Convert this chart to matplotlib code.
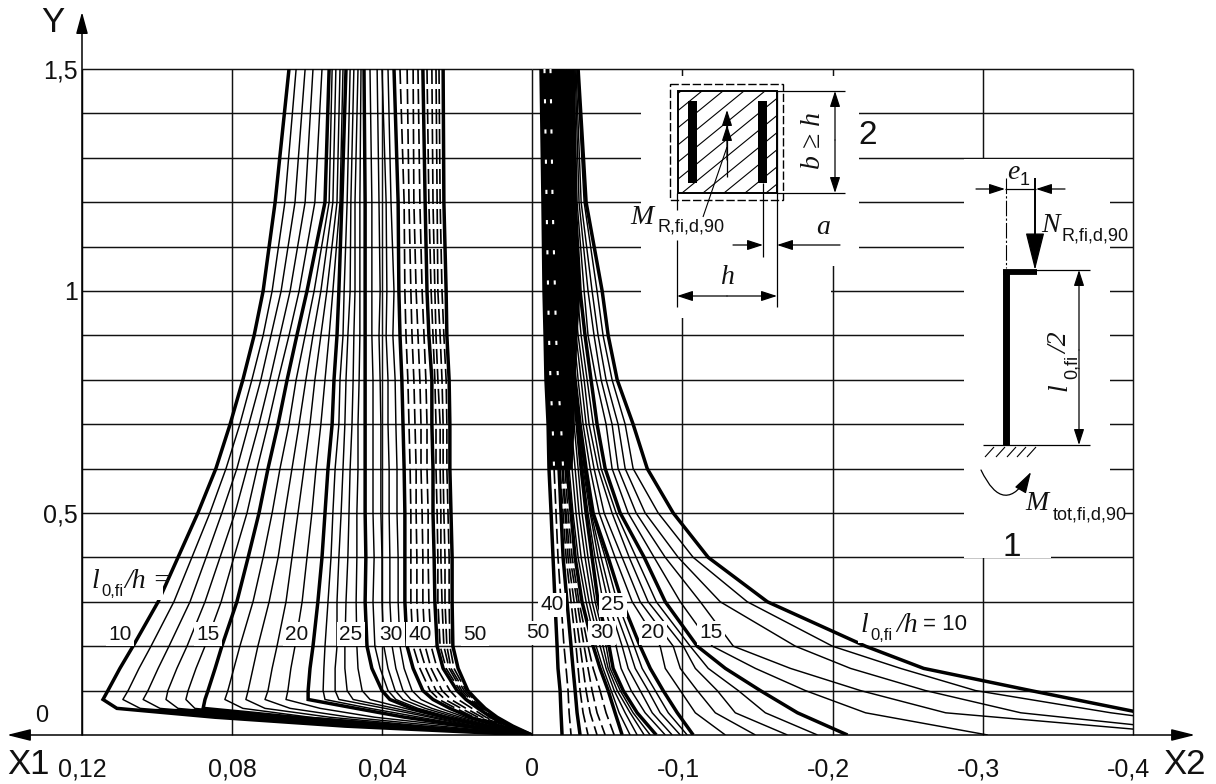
import numpy as np
from matplotlib import pyplot as plt
from matplotlib.patches import Rectangle, FancyArrowPatch
from matplotlib.transforms import ScaledTranslation

plt.rcParams['font.family'] = ['Liberation Sans', 'DejaVu Sans']

# left branch (X1): columns run l/h = 10 ... 50, four thin curves between the thick ones
y1_levels = [1.5, 1.2, 1.0, 0.9, 0.8, 0.7, 0.6, 0.5, 0.4, 0.3, 0.2, 0.15, 0.1, 0.08, 0.06, 0.04, 0.02, 0.0]
x1_y150 = [.0648,.0629,.0605,.0584,.0560,.0541,.0533,.0523,.0512,.0504,.0496,.0485,.0475,.0464,.0456,.0448,.0432,.0413,.0400,.0384,.0368,.0352,.0333,.0317,.0304,.0291,.0280,.0267,.0256,.0248,.0237]
x1_y120 = [.0685,.0659,.0632,.0605,.0579,.0552,.0541,.0531,.0520,.0512,.0507,.0493,.0483,.0472,.0459,.0445,.0427,.0408,.0389,.0376,.0357,.0341,.0328,.0315,.0299,.0285,.0275,.0264,.0253,.0245,.0235]
x1_y100 = [.0717,.0693,.0669,.0645,.0621,.0600,.0581,.0563,.0547,.0531,.0515,.0501,.0485,.0472,.0459,.0445,.0427,.0405,.0387,.0368,.0355,.0339,.0323,.0309,.0293,.0280,.0269,.0259,.0251,.0240,.0229]
x1_y090 = [.0741,.0717,.0696,.0672,.0648,.0627,.0605,.0584,.0563,.0541,.0520,.0504,.0491,.0475,.0459,.0445,.0427,.0408,.0389,.0371,.0352,.0336,.0320,.0304,.0288,.0275,.0264,.0256,.0245,.0235,.0227]
x1_y080 = [.0771,.0747,.0723,.0699,.0677,.0653,.0629,.0603,.0579,.0552,.0528,.0512,.0496,.0477,.0461,.0445,.0424,.0405,.0384,.0365,.0347,.0331,.0315,.0299,.0283,.0267,.0259,.0251,.0240,.0229,.0221]
x1_y070 = [.0805,.0779,.0755,.0728,.0704,.0677,.0648,.0621,.0592,.0563,.0533,.0515,.0499,.0480,.0464,.0445,.0424,.0403,.0384,.0363,.0344,.0328,.0312,.0296,.0280,.0267,.0256,.0245,.0237,.0227,.0219]
x1_y060 = [.0843,.0816,.0787,.0760,.0733,.0704,.0672,.0640,.0608,.0576,.0544,.0525,.0504,.0485,.0464,.0445,.0424,.0403,.0381,.0360,.0341,.0325,.0309,.0296,.0280,.0264,.0256,.0245,.0237,.0227,.0219]
x1_y050 = [.0891,.0859,.0827,.0792,.0760,.0728,.0693,.0659,.0624,.0587,.0552,.0531,.0509,.0488,.0467,.0445,.0424,.0403,.0381,.0360,.0339,.0323,.0309,.0293,.0277,.0264,.0253,.0243,.0235,.0224,.0216]
x1_y040 = [.0944,.0907,.0869,.0832,.0795,.0757,.0717,.0677,.0640,.0600,.0560,.0536,.0515,.0491,.0467,.0443,.0421,.0400,.0379,.0357,.0339,.0323,.0307,.0291,.0277,.0261,.0251,.0243,.0232,.0221,.0213]
x1_y030 = [.0997,.0955,.0912,.0872,.0829,.0787,.0744,.0701,.0656,.0613,.0571,.0544,.0520,.0496,.0469,.0445,.0424,.0400,.0379,.0357,.0339,.0323,.0307,.0291,.0275,.0259,.0251,.0240,.0232,.0221,.0213]
x1_y020 = [.1064,.1016,.0968,.0920,.0872,.0827,.0779,.0731,.0680,.0632,.0584,.0552,.0520,.0499,.0467,.0440,.0419,.0395,.0373,.0352,.0333,.0317,.0301,.0285,.0269,.0253,.0245,.0235,.0227,.0219,.0211]
x1_y015 = [.1099,.1048,.0997,.0947,.0896,.0845,.0795,.0744,.0693,.0643,.0592,.0555,.0525,.0499,.0464,.0427,.0405,.0384,.0363,.0341,.0317,.0299,.0283,.0269,.0253,.0237,.0229,.0221,.0216,.0208,.0197]
x1_y010 = [.1131,.1077,.1024,.0971,.0917,.0864,.0811,.0757,.0704,.0651,.0597,.0557,.0525,.0493,.0453,.0400,.0384,.0365,.0344,.0320,.0291,.0272,.0256,.0240,.0219,.0200,.0192,.0187,.0181,.0176,.0171]
x1_y008 = [.1144,.1091,.1037,.0976,.0923,.0872,.0819,.0763,.0712,.0656,.0597,.0552,.0515,.0477,.0432,.0379,.0363,.0344,.0323,.0296,.0264,.0248,.0232,.0216,.0197,.0176,.0171,.0165,.0160,.0155,.0149]
x1_y006 = [.1107,.1045,.0992,.0944,.0899,.0877,.0771,.0712,.0645,.0565,.0469,.0432,.0392,.0365,.0339,.0320,.0304,.0285,.0267,.0245,.0219,.0203,.0189,.0176,.0160,.0144,.0139,.0136,.0131,.0128,.0125]
x1_y004 = [.0845,.0779,.0739,.0712,.0672,.0632,.0592,.0539,.0485,.0419,.0339,.0299,.0272,.0259,.0245,.0232,.0219,.0205,.0192,.0179,.0165,.0155,.0144,.0133,.0123,.0109,.0107,.0104,.0101,.0099,.0093]
x1_y002 = [.0499,.0459,.0419,.0392,.0365,.0339,.0312,.0285,.0245,.0205,.0179,.0165,.0160,.0152,.0139,.0125,.0117,.0112,.0107,.0099,.0085,.0080,.0075,.0069,.0064,.0059,.0059,.0056,.0053,.0053,.0051]
x1_y000 = [0.0] * 31
x1_rows = [x1_y150, x1_y120, x1_y100, x1_y090, x1_y080, x1_y070, x1_y060, x1_y050, x1_y040,
           x1_y030, x1_y020, x1_y015, x1_y010, x1_y008, x1_y006, x1_y004, x1_y002, x1_y000]
x1_thick = [0, 5, 10, 15, 20, 25, 30]
x1_dashed = [21, 22, 23, 24, 26, 27, 28, 29]

# right branch (X2, drawn with magnitudes): columns run l/h = 50 ... 10
y2_levels = [1.5, 1.2, 1.0, 0.9, 0.8, 0.7, 0.6, 0.5, 0.4, 0.3, 0.2, 0.15, 0.1, 0.05, 0.0]
x2_y150 = [.0060,.0083,.0107,.0113,.0120,.0123,.0127,.0133,.0140,.0147,.0153,.0163,.0173,.0180,.0183,.0187,.0193,.0200,.0213,.0227,.0240,.0253,.0273,.0280,.0287,.0293,.0300,.0307]
x2_y120 = [.0073,.0097,.0120,.0127,.0133,.0137,.0140,.0147,.0160,.0167,.0180,.0187,.0200,.0203,.0207,.0207,.0210,.0213,.0227,.0240,.0253,.0267,.0287,.0300,.0313,.0327,.0347,.0360]
x2_y100 = [.0080,.0107,.0133,.0140,.0147,.0153,.0160,.0167,.0180,.0190,.0200,.0213,.0227,.0227,.0233,.0233,.0240,.0240,.0253,.0267,.0280,.0300,.0320,.0347,.0373,.0400,.0433,.0467]
x2_y090 = [.0087,.0113,.0140,.0147,.0153,.0160,.0167,.0180,.0193,.0207,.0220,.0233,.0247,.0247,.0253,.0253,.0260,.0260,.0280,.0293,.0307,.0327,.0353,.0373,.0413,.0440,.0473,.0507]
x2_y080 = [.0093,.0123,.0153,.0160,.0167,.0173,.0180,.0193,.0207,.0220,.0240,.0253,.0273,.0280,.0280,.0287,.0287,.0287,.0307,.0327,.0347,.0367,.0393,.0427,.0460,.0493,.0533,.0567]
x2_y070 = [.0107,.0137,.0167,.0173,.0180,.0193,.0200,.0213,.0227,.0240,.0260,.0280,.0300,.0307,.0307,.0313,.0313,.0320,.0340,.0360,.0380,.0407,.0433,.0493,.0533,.0573,.0620,.0673]
x2_y060 = [.0113,.0147,.0180,.0187,.0200,.0207,.0220,.0233,.0247,.0267,.0287,.0307,.0327,.0333,.0340,.0347,.0353,.0360,.0387,.0413,.0440,.0460,.0487,.0533,.0573,.0620,.0673,.0767]
x2_y050 = [.0127,.0160,.0193,.0207,.0220,.0227,.0240,.0260,.0273,.0293,.0313,.0333,.0360,.0373,.0387,.0393,.0400,.0407,.0447,.0480,.0533,.0560,.0587,.0640,.0693,.0753,.0840,.0940]
x2_y040 = [.0140,.0173,.0207,.0227,.0240,.0253,.0267,.0287,.0307,.0327,.0353,.0373,.0400,.0420,.0440,.0460,.0487,.0507,.0553,.0600,.0647,.0693,.0747,.0813,.0887,.0973,.1073,.1173]
x2_y030 = [.0153,.0193,.0233,.0260,.0280,.0300,.0313,.0333,.0360,.0380,.0400,.0420,.0440,.0473,.0507,.0533,.0567,.0600,.0667,.0720,.0773,.0827,.0887,.0987,.1120,.1253,.1433,.1567]
x2_y020 = [.0167,.0213,.0260,.0293,.0320,.0347,.0373,.0407,.0427,.0453,.0473,.0493,.0513,.0560,.0600,.0640,.0680,.0720,.0853,.0940,.1007,.1053,.1100,.1200,.1340,.1753,.2000,.2220]
x2_y015 = [.0173,.0227,.0273,.0307,.0340,.0373,.0407,.0453,.0473,.0493,.0507,.0520,.0540,.0593,.0640,.0687,.0733,.0787,.0887,.0987,.1087,.1173,.1287,.1487,.1720,.2120,.2453,.2607]
x2_y010 = [.0187,.0240,.0287,.0320,.0360,.0400,.0453,.0507,.0527,.0547,.0567,.0587,.0607,.0660,.0720,.0773,.0820,.0873,.0987,.1100,.1233,.1373,.1520,.1820,.2187,.2620,.2953,.3320]
x2_y005 = [.0193,.0247,.0300,.0340,.0387,.0433,.0493,.0553,.0580,.0620,.0653,.0673,.0700,.0753,.0800,.0853,.0907,.0967,.1087,.1220,.1353,.1553,.1767,.2220,.2753,.3253,.3853,.4053]
x2_y000 = [.0200,.0260,.0320,.0373,.0433,.0487,.0547,.0600,.0653,.0700,.0747,.0787,.0827,.0887,.0933,.0987,.1033,.1073,.1287,.1487,.1700,.1900,.2100,.3033,.4453,.4653,.4987,.5600]
x2_rows = [x2_y150, x2_y120, x2_y100, x2_y090, x2_y080, x2_y070, x2_y060, x2_y050, x2_y040,
           x2_y030, x2_y020, x2_y015, x2_y010, x2_y005, x2_y000]
x2_thick = [0, 2, 7, 12, 17, 22, 27]
x2_dashed = [1, 3, 4, 5, 6]
# right edge of the part of the right branch where the curves merge to solid black
x2_black_edge = [.0273, .0293, .0320, .0300, .0287, .0280, .0267]

x1_ticks = [0.12, 0.08, 0.04]
x1_ticklabels = ['0,12', '0,08', '0,04']
x2_ticks = [0, -0.1, -0.2, -0.3, -0.4]
x2_ticklabels = ['0', '-0,1', '-0,2', '-0,3', '-0,4']
y_ticks = [0.5, 1, 1.5]
y_ticklabels = ['0,5', '1', '1,5']
grid_y = [0.1 * i for i in range(1, 16)]

INK = '#111111'
THICK = 2.5
THIN = 1.05
GRID = 1.05
DASH = (0, (9, 3))


def draw_curves(ax, rows, levels, thick, dashed, sign):
    curves = np.array(rows).T * sign
    for i, xs in enumerate(curves):
        if i in thick:
            ax.plot(xs, levels, color='black', lw=THICK, solid_capstyle='butt',
                    solid_joinstyle='miter', zorder=5)
        elif i in dashed:
            ax.plot(xs, levels, color='black', lw=1.2, ls=DASH, dash_capstyle='butt', zorder=4)
        else:
            ax.plot(xs, levels, color='black', lw=THIN, solid_capstyle='butt', zorder=3)
    return curves


def setup_axes(ax, xlim, ticks, ticklabels, grid_x):
    ax.set_xlim(*xlim)
    ax.set_ylim(0, 1.5)
    ax.patch.set_alpha(0)
    for s in ax.spines.values():
        s.set_visible(False)
    ax.set_xticks(ticks)
    ax.set_xticklabels(ticklabels, fontsize=18, color=INK)
    ax.tick_params(axis='x', length=0, pad=16)
    ax.hlines(grid_y, xlim[0], xlim[1], color=INK, lw=GRID, zorder=1, clip_on=False)
    ax.vlines(grid_x, 0, 1.5, color=INK, lw=GRID, zorder=1, clip_on=False)


def arrow(ax, start, end, style='-|>', hl=0.8, hw=0.26, lw=0.9):
    arrowstyle = '%s,head_length=%s,head_width=%s' % (style, hl, hw)
    ax.add_patch(FancyArrowPatch(start, end, arrowstyle=arrowstyle, mutation_scale=12,
                                 lw=lw, color='black', shrinkA=0, shrinkB=0, zorder=12))


def line(ax, xs, ys, lw=0.9, **kw):
    ax.plot(xs, ys, color='black', lw=lw, solid_capstyle='butt', zorder=11, **kw)


def ital(ax, x, y, s, size=20, **kw):
    ax.text(x, y, s, family='Liberation Serif', style='italic', fontsize=size,
            ha='center', va='center', color=INK, zorder=13, **kw)


def sans(ax, x, y, s, size=13, **kw):
    ax.text(x, y, s, fontsize=size, ha='center', va='center', color=INK, zorder=13, **kw)


def draw_section(ov):
    # cross-section with hatching and bars
    ov.add_patch(Rectangle((670, 84), 113, 116, fill=False, ec='black', lw=1.0, ls=(0, (6, 2)), zorder=11))
    frame = Rectangle((678, 91), 99, 102, fill=False, ec='black', lw=1.4, zorder=11)
    ov.add_patch(frame)
    for x0 in range(660, 900, 21):
        hatch, = ov.plot([x0, x0 - 125], [91, 193], color='black', lw=0.8, zorder=10)
        hatch.set_clip_path(frame)
    for x0 in (688, 758):
        ov.add_patch(Rectangle((x0, 101), 9, 82, color='black', lw=0, zorder=11))
    line(ov, [777, 845], [91, 91])
    line(ov, [777, 845], [193, 193])
    arrow(ov, (835, 140), (835, 91))
    arrow(ov, (835, 140), (835, 193))
    ital(ov, 814, 140, 'b \u2265 h', rotation=90)
    sans(ov, 868, 135, '2', size=24)
    line(ov, [727, 727], [177, 125])
    arrow(ov, (727, 140), (727, 110))
    arrow(ov, (727, 160), (727, 125))
    line(ov, [703, 727], [217, 147], lw=0.8)
    ital(ov, 642, 217, 'M')
    sans(ov, 691, 227, 'R,fi,d,90')
    line(ov, [677, 677], [193, 210])
    line(ov, [677, 677], [240, 307])
    line(ov, [777, 777], [91, 307])
    line(ov, [763, 763], [183, 257])
    arrow(ov, (733, 245), (763, 245))
    arrow(ov, (840, 245), (777, 245))
    ital(ov, 823, 227, 'a')
    arrow(ov, (727, 296), (677, 296))
    arrow(ov, (727, 296), (777, 296))
    ital(ov, 728, 277, 'h')


def draw_column(ov):
    line(ov, [1006, 1006], [270, 445], lw=5.0)
    line(ov, [1003, 1037], [272, 272], lw=4.2)
    line(ov, [1006, 1006], [178, 268], lw=0.8, ls=(0, (14, 2, 2, 2)))
    line(ov, [1035, 1035], [178, 245], lw=1.4)
    arrow(ov, (1035, 235), (1035, 270), hl=2.0, hw=0.5)
    line(ov, [1005, 1036], [189, 189])
    arrow(ov, (976, 189), (1005, 189))
    arrow(ov, (1065, 189), (1036, 189))
    ital(ov, 1013, 172, 'e')
    sans(ov, 1025, 180, '1', size=13)
    ital(ov, 1050, 225, 'N')
    sans(ov, 1095, 236, 'R,fi,d,90')
    line(ov, [1036, 1090], [270, 270])
    line(ov, [983, 1090], [445, 445])
    arrow(ov, (1079, 350), (1079, 270))
    arrow(ov, (1079, 350), (1079, 445))
    ital(ov, 1061, 343, '/2', rotation=90)
    sans(ov, 1072, 367, '0,fi', rotation=90)
    ital(ov, 1060, 387, 'l', rotation=90)
    for x0 in (985, 996, 1007, 1017, 1027):
        line(ov, [x0 + 9, x0], [447, 457], lw=0.8)
    arrow(ov, (981, 470), (1031, 472), hl=1.1, hw=0.33)
    ov.patches[-1].set_connectionstyle('arc3,rad=0.95')
    ital(ov, 1037, 503, 'M')
    sans(ov, 1090, 515, 'tot,fi,d,90')
    sans(ov, 1012, 547, '1', size=24)


def main():
    fig = plt.figure(figsize=(12.16, 7.84), dpi=100)
    ax1 = fig.add_axes([82 / 1216, 1 - 735 / 784, 450 / 1216, 666 / 784])
    ax2 = fig.add_axes([532 / 1216, 1 - 735 / 784, 601 / 1216, 666 / 784])

    setup_axes(ax1, (0.12, 0), x1_ticks, x1_ticklabels, [0.12, 0.08, 0.04, 0])
    setup_axes(ax2, (0, -0.4), x2_ticks, x2_ticklabels, [-0.1, -0.2, -0.3, -0.4])
    ax1.set_yticks(y_ticks)
    ax1.set_yticklabels(y_ticklabels, fontsize=18, color=INK)
    ax1.tick_params(axis='y', length=0, pad=3)
    ax2.set_yticks([])
    # the minus signs push the right-hand labels a little to the left
    shift = ScaledTranslation(-4 / 100, 0, fig.dpi_scale_trans)
    for label in ax2.get_xticklabels()[1:]:
        label.set_transform(label.get_transform() + shift)

    left = draw_curves(ax1, x1_rows, y1_levels, x1_thick, x1_dashed, 1)
    right = draw_curves(ax2, x2_rows, y2_levels, x2_thick, x2_dashed, -1)

    # black wedge where the curves run together at the foot of the left branch
    ax1.fill_betweenx(y1_levels[-4:], left[0][-4:], left[5][-4:], color='black', lw=0, zorder=5)

    # the curves merge to solid black at the top of the right branch; white dash gaps remain
    n = len(x2_black_edge)
    ax2.fill_betweenx(y2_levels[:n], right[0][:n], -np.array(x2_black_edge), color='black', lw=0, zorder=5)
    for col in (1, 5):
        ax2.plot(right[col][:n], y2_levels[:n], color='white', lw=1.5, ls=(0, (2, 12.5)),
                 dash_capstyle='butt', zorder=6)

    ov = fig.add_axes([0, 0, 1, 1])
    ov.set_xlim(0, 1216)
    ov.set_ylim(784, 0)
    ov.axis('off')
    ov.patch.set_alpha(0)

    # blanked parts of the grid around the two sketches
    for x0, y0, x1, y1 in [(641, 76, 859, 266), (641, 266, 831, 318), (964, 159, 1110, 512),
                           (964, 505, 1125, 556), (964, 512, 1051, 558), (984, 159, 1110, 556)]:
        ov.add_patch(Rectangle((x0, y0), x1 - x0, y1 - y0, color='white', lw=0, zorder=2))

    # axes with arrowheads
    arrow(ov, (82, 735), (82, 12), hl=1.1, hw=0.3, lw=1.1)
    arrow(ov, (532, 735), (1195, 735), hl=1.2, hw=0.3, lw=1.1)
    arrow(ov, (532, 735), (7, 735), hl=1.2, hw=0.3, lw=1.1)
    sans(ov, 53, 22, 'Y', size=25)
    sans(ov, 28, 765, 'X1', size=25)
    sans(ov, 1184, 765, 'X2', size=25)
    sans(ov, 42, 716, '0', size=17)

    # curve labels, boxed white so that they cut the curves
    box = dict(facecolor='white', edgecolor='none', pad=1.5)
    for x, y, s in [(120, 634, '10'), (208, 634, '15'), (297, 634, '20'), (351, 634, '25'), (391, 634, '30'),
                    (420, 634, '40'), (475, 634, '50'), (538, 633, '50'), (552, 605, '40'), (613, 605, '25'),
                    (602, 633, '30'), (653, 633, '20'), (711, 633, '15')]:
        ov.text(x, y, s, fontsize=15, ha='center', va='center', color=INK, bbox=box, zorder=9)

    ov.add_patch(Rectangle((90, 570), 73, 30, color='white', lw=0, zorder=8))
    ital(ov, 95, 582, 'l')
    sans(ov, 112, 592, '0,fi', size=12)
    ital(ov, 148, 582, '/h =')

    ov.add_patch(Rectangle((858, 612), 108, 31, color='white', lw=0, zorder=8))
    ital(ov, 864, 625, 'l')
    sans(ov, 881, 635, '0,fi', size=12)
    ital(ov, 907, 625, '/h')
    sans(ov, 945, 625, '= 10', size=16)

    draw_section(ov)
    draw_column(ov)

    fig.savefig('out.png', dpi=100)


if __name__ == "__main__":
    main()
